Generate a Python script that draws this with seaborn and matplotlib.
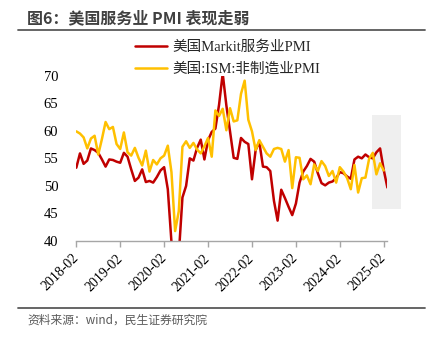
import matplotlib
matplotlib.use("Agg")
import matplotlib.pyplot as plt
import matplotlib.patches as mpatches
import numpy as np
import pandas as pd
import seaborn as sns

# ---- data (monthly, 2018-01 .. 2025-02) ----
markit = [53.3, 55.9, 54.0, 54.6, 56.8, 56.5, 56.0, 54.8, 53.5, 54.8, 54.7, 54.4,
          54.2, 56.0, 55.3, 53.0, 50.9, 51.5, 53.0, 50.7, 50.9, 50.6, 51.6, 52.8,
          53.4, 49.4, 39.8, 26.7, 37.5, 47.9, 50.0, 55.0, 54.6, 56.9, 58.4, 54.8,
          58.3, 59.8, 60.4, 64.7, 70.4, 64.6, 59.9, 55.1, 54.9, 58.7, 58.0, 57.6,
          51.2, 56.5, 58.0, 53.5, 53.4, 52.7, 47.3, 43.7, 49.3, 47.8, 46.2, 44.7,
          46.8, 50.6, 52.6, 53.6, 54.9, 54.4, 52.3, 50.5, 50.1, 50.6, 50.8, 51.4,
          52.5, 52.3, 51.7, 51.3, 54.8, 55.3, 55.0, 55.7, 55.2, 55.0, 56.1, 56.8,
          52.9, 49.7]
ism = [59.9, 59.5, 58.8, 56.8, 58.6, 59.1, 55.7, 58.5, 61.6, 60.3, 60.7, 57.6,
       56.7, 59.7, 56.1, 55.5, 56.9, 55.1, 53.7, 56.4, 52.6, 54.7, 53.9, 55.0,
       55.5, 57.3, 52.5, 41.8, 45.4, 57.1, 58.1, 56.9, 57.8, 56.6, 55.9, 57.2,
       58.7, 55.3, 63.7, 62.7, 64.0, 60.1, 64.1, 61.7, 61.9, 66.7, 69.1, 62.0,
       59.9, 56.5, 58.3, 57.1, 55.9, 55.3, 56.7, 56.9, 56.7, 54.4, 56.5, 49.6,
       55.2, 55.1, 51.2, 51.9, 50.3, 53.9, 52.7, 54.5, 53.6, 51.8, 52.7, 50.6,
       53.4, 52.6, 51.4, 49.4, 53.8, 48.8, 51.4, 51.5, 54.9, 56.0, 52.1, 54.1,
       52.8, np.nan]
months = pd.date_range("2018-01-01", periods=len(markit), freq="MS").strftime("%Y-%m").tolist()
tick_labels = ["2018-02", "2019-02", "2020-02", "2021-02", "2022-02", "2023-02", "2024-02", "2025-02"]
series_names = ["美国Markit服务业PMI", "美国:ISM:非制造业PMI"]
colors = ["#C00000", "#FFC000"]
title = "图6：美国服务业 PMI 表现走弱"
source = "资料来源：wind，民生证券研究院"

sns.set_theme(style="white")
plt.rcParams["font.family"] = ["Liberation Serif", "Noto Sans CJK SC"]

df = pd.DataFrame({"idx": np.arange(len(months)), "month": months,
                   "markit": markit, "ism": ism})

fig = plt.figure(figsize=(4.33, 3.38), dpi=100)
ax = fig.add_axes([76.3 / 433, 1 - 241 / 338, (387.4 - 76.3) / 433, (241 - 75.7) / 338])

sns.lineplot(data=df, x="idx", y="markit", color=colors[0], lw=1.8, ax=ax,
             label=series_names[0], legend=False)
sns.lineplot(data=df, x="idx", y="ism", color=colors[1], lw=1.8, ax=ax,
             label=series_names[1], legend=False)

# shaded highlight box
rect = mpatches.Rectangle((80.8, 45.8), 7.8, 17.15, transform=ax.transData,
                          facecolor="#EFEFEF", edgecolor="none", clip_on=False, zorder=0)
ax.add_patch(rect)

ax.set_xlim(0, 85)
ax.set_ylim(40, 70)
ax.set_yticks([40, 45, 50, 55, 60, 65, 70])
ax.set_xticks(np.arange(0, 85, 12))
ax.set_xticklabels(tick_labels, rotation=45, ha="right", va="center",
                   rotation_mode="anchor", fontsize=10)
ax.tick_params(axis="y", length=0, pad=13, labelsize=10.5, labelcolor="black")
ax.tick_params(axis="x", length=4, width=1, color="#A6A6A6", direction="out",
               pad=7, labelcolor="black", bottom=True)
ax.set_xlabel("")
ax.set_ylabel("")
for s in ["top", "right", "left"]:
    ax.spines[s].set_visible(False)
ax.spines["bottom"].set_color("#A6A6A6")
ax.spines["bottom"].set_linewidth(1)
ax.grid(False)

handles = ax.get_lines()[:2]
leg = ax.legend(handles=handles, labels=series_names, loc="upper left",
                bbox_to_anchor=(135 / 433, 1 - 40 / 338), bbox_transform=fig.transFigure,
                frameon=False, fontsize=10.5, handlelength=2.2, handletextpad=0.35,
                labelspacing=0.6, borderpad=0, borderaxespad=0)
for t in leg.get_texts():
    t.set_color("#262626")

# title and rules
fig.text(27 / 433, 1 - 18 / 338, title, fontsize=11.5, fontweight="bold",
         color="#404040", va="center", ha="left",
         family=["Noto Sans CJK SC", "DejaVu Sans"])
fig.add_artist(plt.Line2D([18 / 433, 425 / 433], [1 - 29.5 / 338, 1 - 29.5 / 338],
                          color="#595959", lw=1.3, transform=fig.transFigure))
fig.add_artist(plt.Line2D([18 / 433, 425 / 433], [1 - 307.7 / 338, 1 - 307.7 / 338],
                          color="#595959", lw=1.3, transform=fig.transFigure))
fig.text(27 / 433, 1 - 320 / 338, source, fontsize=8.5, color="#595959",
         va="center", ha="left", family=["Noto Sans CJK SC", "DejaVu Sans"])

fig.savefig("out.png", dpi=100)
